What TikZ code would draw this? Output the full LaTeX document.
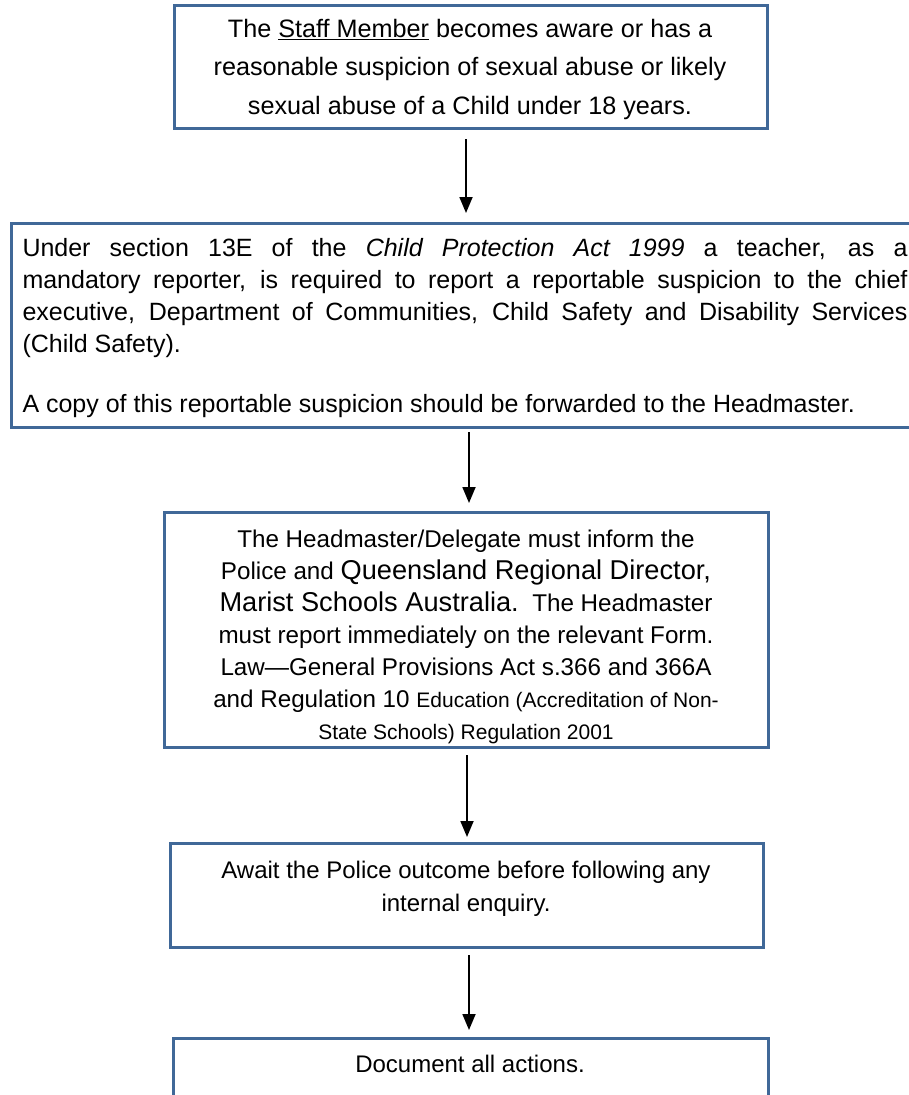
\documentclass[tikz,border=0pt]{standalone}
\usepackage{fontspec}
\setmainfont{Liberation Sans}
\usetikzlibrary{arrows.meta}
\definecolor{boxblue}{RGB}{64,104,152}
\tikzset{
  box/.style={draw=boxblue, line width=3pt, anchor=north west, inner sep=0pt, outer sep=0pt},
  txt/.style={anchor=north, inner sep=0pt, align=center},
  arr/.style={line width=1.8pt, -{Triangle[width=13pt,length=16pt]}},
}
\begin{document}
\begin{tikzpicture}[x=1pt,y=-1pt]
\useasboundingbox (0,0) rectangle (909,1095);
% boxes
\node[box, minimum width=593pt, minimum height=123pt] (b1) at (174,5) {};
\node[box, minimum width=930pt, minimum height=204pt] (b2) at (11,223) {};
\node[box, minimum width=604pt, minimum height=235pt] (b3) at (164,512) {};
\node[box, minimum width=593pt, minimum height=104pt] (b4) at (170,843) {};
\node[box, minimum width=595pt, minimum height=120pt] (b5) at (173,1038) {};
% texts
\node[txt, font=\fontsize{25.2}{38.5}\selectfont] (t1) at (470,19)
 {The \underline{Staff Member} becomes aware or has a\\
  reasonable suspicion of sexual abuse or likely\\
  sexual abuse of a Child under 18 years.};
\node[txt, align=justify, text width=885pt, font=\fontsize{25}{32}\selectfont] (t2) at (465,238)
 {Under section 13E of the \textit{Child Protection Act 1999} a teacher, as a\linebreak
  mandatory reporter, is required to report a reportable suspicion to the chief\linebreak
  executive, Department of Communities, Child Safety and Disability Services\linebreak
  (Child Safety).\par\vspace{28pt}
  A copy of this reportable suspicion should be forwarded to the Headmaster.};
\node[txt, font=\fontsize{24.2}{32}\selectfont] (t3) at (466,530)
 {The Headmaster/Delegate must inform the\\
  Police and {\fontsize{27.2}{32}\selectfont Queensland Regional Director,}\\
  {\fontsize{27.2}{32}\selectfont Marist Schools Australia.}\ \ The Headmaster\\
  must report immediately on the relevant Form.\\
  Law---General Provisions Act s.366 and 366A\\
  and Regulation 10 {\fontsize{21}{32}\selectfont Education (Accreditation of Non-}\\
  {\fontsize{21}{30}\selectfont State Schools) Regulation 2001}};
\node[txt, font=\fontsize{24}{33}\selectfont] (t4) at (466,861)
 {Await the Police outcome before following any\\
  internal enquiry.};
\node[txt, font=\fontsize{24}{33}\selectfont] (t5) at (470,1055)
 {Document all actions.};
% arrows
\coordinate (x1) at (466,0);
\coordinate (x2) at (469,0);
\coordinate (x3) at (467,0);
\coordinate (x4) at (469,0);
\draw[arr, shorten <=11pt, shorten >=10pt] (b1.south -| x1) -- (b2.north -| x1);
\draw[arr, shorten <=5pt, shorten >=9pt] (b2.south -| x2) -- (b3.north -| x2);
\draw[arr, shorten <=8pt, shorten >=6pt] (b3.south -| x3) -- (b4.north -| x3);
\draw[arr, shorten <=8pt, shorten >=8pt] (b4.south -| x4) -- (b5.north -| x4);
\end{tikzpicture}
\end{document}
